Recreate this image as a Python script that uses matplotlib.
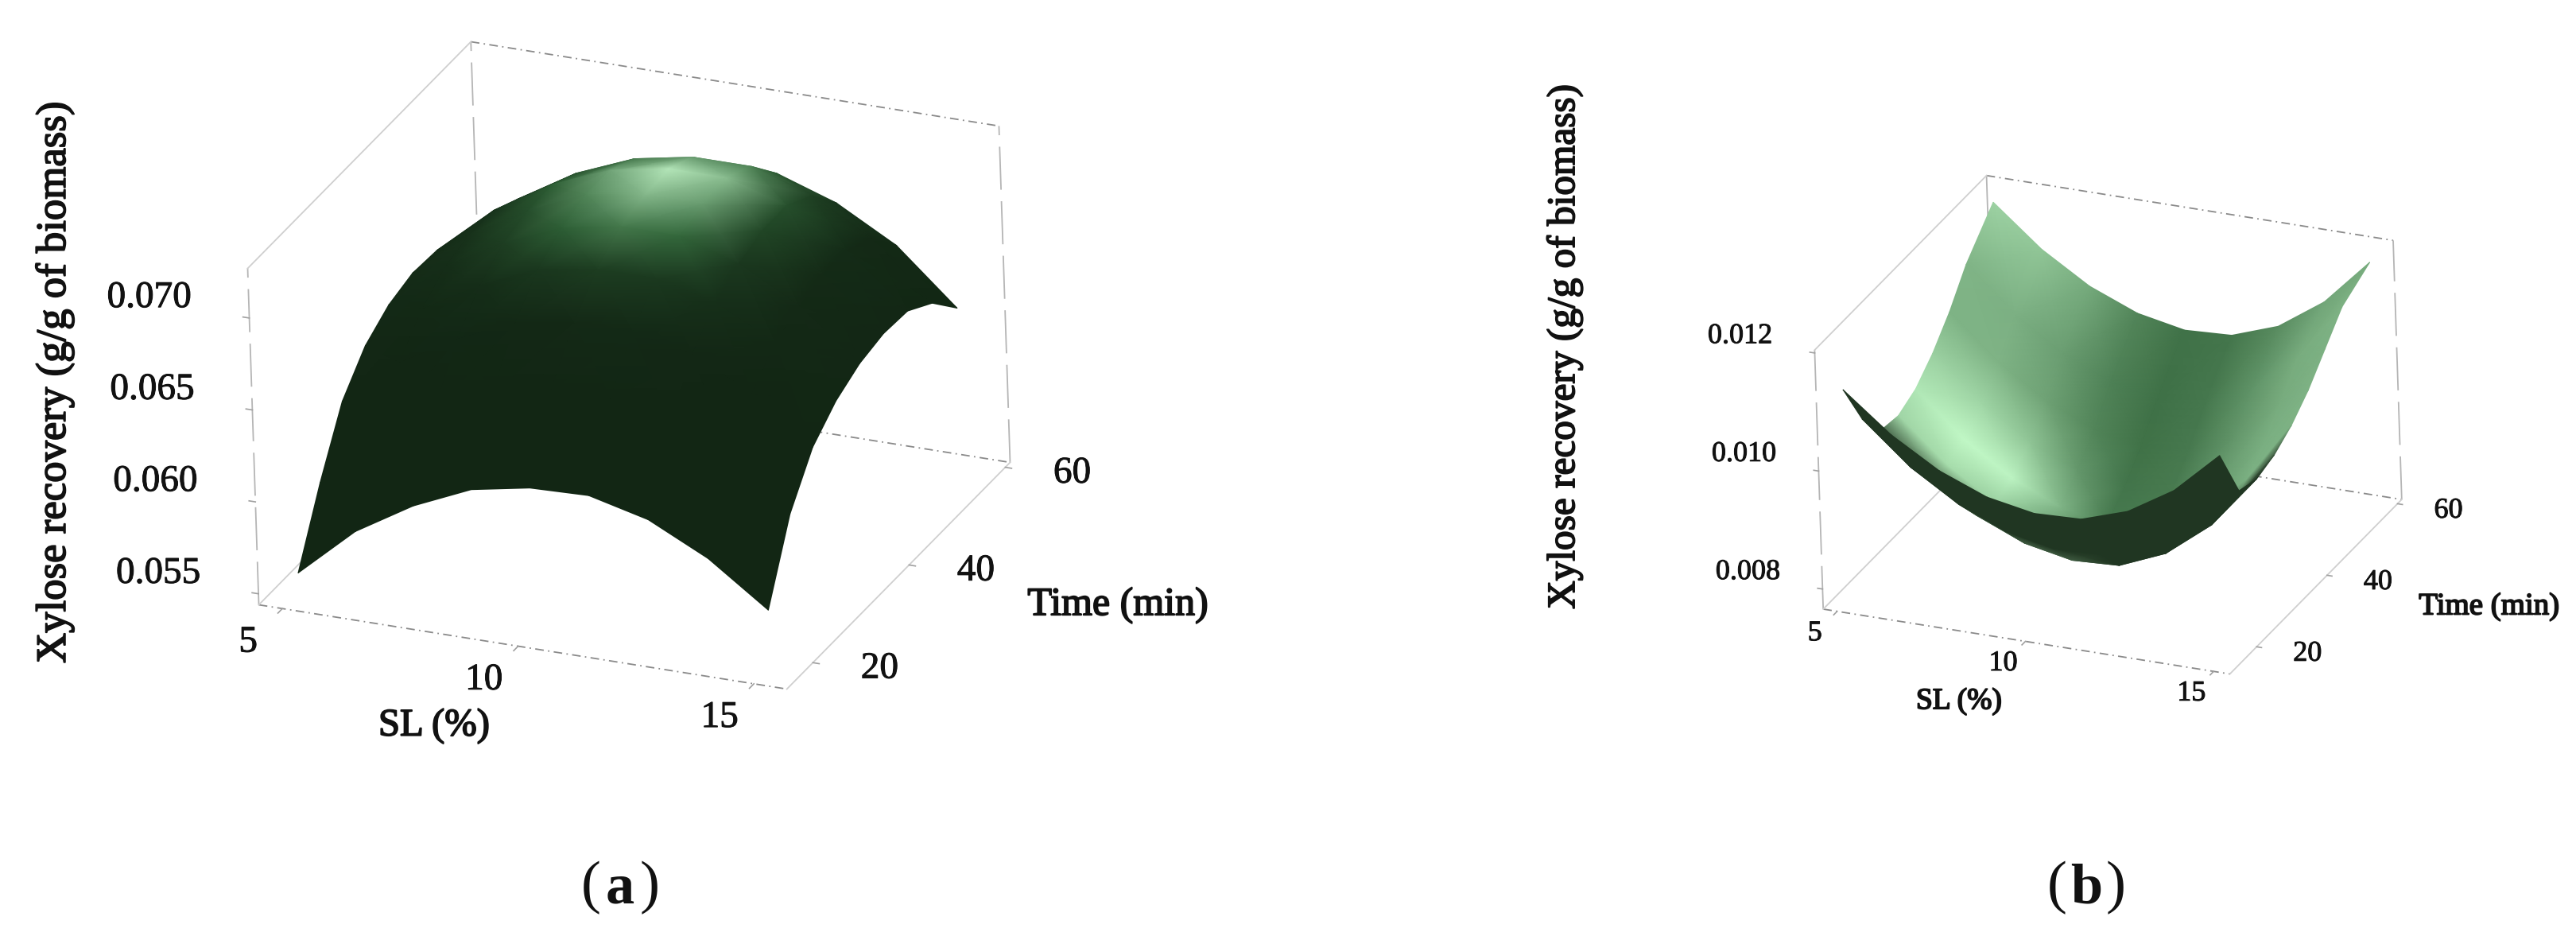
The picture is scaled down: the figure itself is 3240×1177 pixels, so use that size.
import numpy as np
import matplotlib
matplotlib.use('Agg')
import matplotlib.pyplot as plt
import matplotlib.patheffects as pe
from mpl_toolkits.mplot3d import proj3d

plt.rcParams['font.family'] = ['Liberation Serif', 'DejaVu Serif']

W, H = 3240, 1177

# values
sl = [5, 6.25, 7.5, 8.75, 10, 11.25, 12.5, 13.75, 15]
time_a = [18, 23, 28, 33, 38, 43, 48, 53, 58]
time_b = [16, 21, 26, 31, 36, 41, 46, 51, 59]

xylose_a = [
    [.05543, .0582, .0601, .0615, .0621, .0622, .0614, .0598, .0575],
    [.0590, .0618, .0640, .0654, .0661, .0661, .0653, .0637, .0614],
    [.0621, .0647, .0665, .0679, .0684, .0684, .0677, .0661, .0637],
    [.0638, .0663, .0681, .0695, .0700, .0700, .0692, .0675, .0649],
    [.0647, .0673, .0691, .0704, .0710, .0710, .0700, .0682, .0656],
    [.0651, .0677, .0695, .0709, .0714, .0714, .0705, .0686, .0659],
    [.0650, .0677, .0696, .0709, .0715, .0715, .0705, .0686, .0658],
    [.0645, .0670, .0689, .0702, .0708, .0708, .0697, .0679, .0649],
    [.0635, .0658, .0675, .0685, .0691, .0691, .0680, .0662, .0633],
]
xylose_b = [
    [.0112, .01056, .01008, .00976, .00961, .00964, .0099, .01038, .0111],
    [.0104, .00971, .00921, .00887, .00871, .00874, .0090, .00948, .0102],
    [.0099, .00921, .00871, .00837, .00821, .00825, .00858, .00919, .0101],
    [.00985, .00914, .00862, .00828, .00811, .00816, .00852, .0092, .0102],
    [.0100, .00927, .00874, .00838, .00821, .00826, .00864, .00935, .0104],
    [.0103, .00957, .00904, .00868, .00851, .00856, .00894, .00965, .0107],
    [.0107, .00997, .00944, .00908, .00891, .00896, .00934, .01005, .0111],
    [.0112, .01047, .00994, .00958, .00941, .00946, .00982, .0105, .0115],
    [.01177, .0111, .0106, .01027, .01011, .01015, .01043, .01097, .01177],
]

sl_ticks = [5, 10, 15]
time_ticks = [20, 40, 60]
z_ticks_a = [0.055, 0.060, 0.065, 0.070]
z_ticks_b = [0.008, 0.010, 0.012]

ylabel = 'Xylose recovery (g/g of biomass)'

ELEV, AZIM, ROLL = 25.4, -65.7, 1.9
BOX = (736, 716, 476)


def px(ax, x, y, z):
    xs, ys, _ = proj3d.proj_transform(x, y, z, ax.get_proj())
    return ax.transData.transform(np.column_stack([np.ravel(xs), np.ravel(ys)]))


def fit_axes(ax, corner_a, corner_c, a_px, c_px):
    # move and scale the axes so two box corners land where they should be
    for i in range(2):
        fig.canvas.draw()
        p = px(ax, *corner_a)[0]
        q = px(ax, *corner_c)[0]
        ta = np.array([a_px[0], H - a_px[1]])
        tc = np.array([c_px[0], H - c_px[1]])
        s = np.linalg.norm(tc - ta) / np.linalg.norm(q - p)
        pos = ax.get_position()
        cx = pos.x0 + pos.width / 2 + ((ta + tc) / 2 - (p + q) / 2)[0] / W
        cy = pos.y0 + pos.height / 2 + ((ta + tc) / 2 - (p + q) / 2)[1] / H
        w, h = pos.width * s, pos.height * s
        ax.set_position([cx - w / 2, cy - h / 2, w, h])
    fig.canvas.draw()


def put(ax, x, y, z, off, s, size):
    p = px(ax, x, y, z)[0]
    t = fig.text((p[0] + off[0]) / W, (p[1] - off[1]) / H, s, fontsize=size,
                 ha='center', va='center', color='#111111')
    t.set_path_effects([pe.withStroke(linewidth=0.7, foreground='#111111')])


def normals(Z, xv, yv, zlim, box, xlim, ylim):
    sx = box[0] / (xlim[1] - xlim[0])
    sy = box[1] / (ylim[1] - ylim[0])
    sz = box[2] / (zlim[1] - zlim[0])
    dzdy, dzdx = np.gradient(Z * sz, np.array(yv) * sy, np.array(xv) * sx)
    n = np.dstack([-dzdx, -dzdy, np.ones_like(Z)])
    return n / np.linalg.norm(n, axis=2, keepdims=True)


def unit(v):
    v = np.array(v, dtype=float)
    return v / np.linalg.norm(v)


def colours_a(n):
    stops = [0, 0.25, 1]
    ramp = np.array([[18, 38, 20], [48, 100, 56], [185, 235, 190]]) / 255
    i = np.clip(n @ unit([-0.04, 0.12, 1.0]), 0, 1) ** 16
    return np.dstack([np.interp(i, stops, ramp[:, k]) for k in range(3)])


def colours_b(n):
    dark = np.array([58, 108, 66]) / 255
    light = np.array([195, 250, 200]) / 255
    under = np.array([32, 54, 34]) / 255
    under_low = np.array([62, 90, 64]) / 255
    i = 1.05 * np.clip(n @ unit([0.55, -0.2, 0.8]), 0, 1) ** 18
    i = i + 0.5 * np.clip(n @ unit([-0.8, -0.25, 0.55]), 0, 1) ** 6
    c = dark + (light - dark) * np.clip(i, 0, 1)[..., None]
    e, a = np.radians(ELEV), np.radians(AZIM)
    view = np.array([np.cos(e) * np.cos(a), np.cos(e) * np.sin(a), np.sin(e)])
    mask = (n @ view) < 0
    low = np.zeros_like(mask)
    low[1:] = mask[:-1] & ~mask[1:]
    c[mask] = under
    c[low] = under_low
    return c


def panel(pos, xv, yv, Z, xlim, ylim, zlim, xt, yt, zt, colour_fn, a_px, c_px, ztick_fmt,
          off_x, off_y, off_z, tick_size):
    ax = fig.add_axes(pos, projection='3d', proj_type='ortho')
    ax.set_facecolor('none')
    ax.view_init(elev=ELEV, azim=AZIM, roll=ROLL)
    ax.set_box_aspect(BOX)
    ax.set_xlim(*xlim)
    ax.set_ylim(*ylim)
    ax.set_zlim(*zlim)
    ax.set_axis_off()

    x0, x1 = xlim
    y0, y1 = ylim
    z0, z1 = zlim
    dash = dict(color='#8a8a8a', lw=1.3, ls=(0, (6, 3, 1, 3)))
    vert = dict(color='#b5b5b5', lw=1.3, ls=(0, (30, 8)))
    thin = dict(color='#cfcfcf', lw=1.3)
    ax.plot([x0, x1], [y0, y0], [z0, z0], **dash)
    ax.plot([x0, x1], [y1, y1], [z1, z1], **dash)
    ax.plot([x0, x1], [y1, y1], [z0, z0], **dash)
    ax.plot([x1, x1], [y1, y1], [z0, z1], **vert)
    ax.plot([x0, x0], [y1, y1], [z0, z1], **vert)
    ax.plot([x0, x0], [y0, y0], [z0, z1], **vert)
    ax.plot([x0, x0], [y0, y1], [z1, z1], **thin)
    ax.plot([x1, x1], [y0, y1], [z0, z0], **thin)
    ax.plot([x0, x0], [y0, y1], [z0, z0], **thin)

    # tick marks
    dy = (y1 - y0) * 0.02
    dx = (x1 - x0) * 0.012
    for t in xt:
        ax.plot([t, t], [y0, y0 - dy], [z0, z0], color='#a0a0a0', lw=1.2)
    for t in yt:
        ax.plot([x1, x1 + dx], [t, t], [z0, z0], color='#a0a0a0', lw=1.2)
    for t in zt:
        ax.plot([x0, x0 - dx], [y0, y0], [t, t], color='#a0a0a0', lw=1.2)

    fit_axes(ax, (x0, y0, z0), (x1, y1, z0), a_px, c_px)

    # surface: projected with the 3d axes, drawn back to front with gouraud shading
    X, Y = np.meshgrid(xv, yv)
    Z = np.array(Z)
    n = normals(Z, xv, yv, zlim, BOX, xlim, ylim)
    pts = px(ax, X.ravel(), Y.ravel(), Z.ravel()).reshape(*Z.shape, 2)
    over = fig.add_axes([0, 0, 1, 1])
    over.set_xlim(0, W)
    over.set_ylim(0, H)
    over.set_axis_off()
    over.patch.set_alpha(0)
    over.pcolormesh(pts[::-1, :, 0], pts[::-1, :, 1], colour_fn(n)[::-1], shading='gouraud')

    for t in xt:
        put(ax, t, y0, z0, off_x, str(t), tick_size)
    for t in yt:
        put(ax, x1, t, z0, off_y, str(t), tick_size)
    for t in zt:
        put(ax, x0, y0, t, off_z, ztick_fmt % t, tick_size)
    return ax


fig = plt.figure(figsize=(W / 100, H / 100), dpi=100, facecolor='white')

panel([0.05, 0.0, 0.35, 0.96], sl, time_a, xylose_a, (4.5, 15.7), (14.6, 61.0), (0.0544, 0.0727),
      sl_ticks, time_ticks, z_ticks_a, colours_a, (326, 763), (1270, 579), '%.3f',
      (-43, 43), (84, 8), (-126, -25), 34)
panel([0.62, 0.0, 0.35, 0.96], sl, time_b, xylose_b, (4.63, 15.43), (12.4, 61.2), (0.00766, 0.01205),
      sl_ticks, time_ticks, z_ticks_b, colours_b, (2293, 765), (3021, 629), '%.3f',
      (-28, 28), (64, 9), (-94, -21), 26)


def label(x, y, s, size, rotation=0, stroke=1.3, weight='normal'):
    t = fig.text(x / W, 1 - y / H, s, fontsize=size, weight=weight, rotation=rotation,
                 ha='center', va='center', color='#111111')
    if stroke:
        t.set_path_effects([pe.withStroke(linewidth=stroke, foreground='#111111')])


label(69, 481, ylabel, 38, rotation=90)
label(546, 913, 'SL (%)', 35)
label(1406, 761, 'Time (min)', 36)
label(1968, 436, ylabel, 35.5, rotation=90)
label(2464, 882, 'SL (%)', 27)
label(3131, 763, 'Time (min)', 28)

for cx, letter in [(780, 'a'), (2624, 'b')]:
    label(cx - 37, 1116, '(', 54, stroke=0)
    label(cx, 1118, letter, 52, stroke=0, weight='bold')
    label(cx + 37, 1116, ')', 54, stroke=0)

fig.savefig('out.png', dpi=100, facecolor='white')
